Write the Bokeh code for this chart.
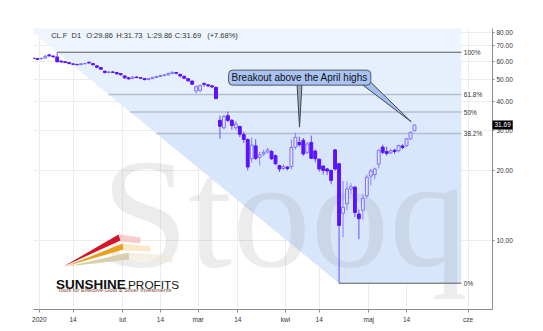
import numpy as np
from bokeh.plotting import figure
from bokeh.models import Range1d, FixedTicker, Label, PrintfTickFormatter
from bokeh.core.properties import value
from bokeh.embed import file_html
from bokeh.resources import INLINE

# ---------------- data (CL.F daily) ----------------
dates = ["2019-12-30", "2019-12-31",
         "2020-01-02", "2020-01-03", "2020-01-06", "2020-01-07", "2020-01-08", "2020-01-09", "2020-01-10",
         "2020-01-13", "2020-01-14", "2020-01-15", "2020-01-16", "2020-01-17", "2020-01-21", "2020-01-22",
         "2020-01-23", "2020-01-24", "2020-01-27", "2020-01-28", "2020-01-29", "2020-01-30", "2020-01-31",
         "2020-02-03", "2020-02-04", "2020-02-05", "2020-02-06", "2020-02-07", "2020-02-10", "2020-02-11",
         "2020-02-12", "2020-02-13", "2020-02-14", "2020-02-18", "2020-02-19", "2020-02-20", "2020-02-21",
         "2020-02-24", "2020-02-25", "2020-02-26", "2020-02-27", "2020-02-28",
         "2020-03-02", "2020-03-03", "2020-03-04", "2020-03-05", "2020-03-06", "2020-03-09", "2020-03-10",
         "2020-03-11", "2020-03-12", "2020-03-13", "2020-03-16", "2020-03-17", "2020-03-18", "2020-03-19",
         "2020-03-20", "2020-03-23", "2020-03-24", "2020-03-25", "2020-03-26", "2020-03-27", "2020-03-30",
         "2020-03-31",
         "2020-04-01", "2020-04-02", "2020-04-03", "2020-04-06", "2020-04-07", "2020-04-08", "2020-04-09",
         "2020-04-13", "2020-04-14", "2020-04-15", "2020-04-16", "2020-04-17", "2020-04-20", "2020-04-21",
         "2020-04-22", "2020-04-23", "2020-04-24", "2020-04-27", "2020-04-28", "2020-04-29", "2020-04-30",
         "2020-05-01", "2020-05-04", "2020-05-05", "2020-05-06", "2020-05-07", "2020-05-08", "2020-05-11",
         "2020-05-12", "2020-05-13", "2020-05-14", "2020-05-15", "2020-05-18"]

opens = [61.9, 61.6, 61.6, 61.9, 63.9, 63.2, 62.6, 60.1, 59.7, 59.2,
         58.4, 58.1, 58.0, 58.5, 59.4, 58.6, 57.3, 56.3, 54.3, 53.6,
         53.9, 53.6, 53.0, 51.8, 50.8, 50.5, 51.2, 50.9, 50.4, 49.9,
         50.4, 51.0, 51.5, 52.0, 52.3, 53.1, 53.6, 52.6, 51.6, 50.4,
         49.2, 44.5, 44.8, 48.0, 47.4, 46.9, 46.2, 33.2, 30.8, 34.8,
         33.2, 30.8, 31.2, 28.8, 27.4, 22.6, 25.7, 22.9, 23.7, 24.2,
         24.3, 23.3, 21.1, 20.5, 20.8, 20.9, 25.4, 26.6, 27.2, 24.1,
         26.6, 24.4, 22.5, 21.0, 20.4, 20.1, 24.7, 21.5, 13.1, 14.4,
         16.7, 17.0, 13.0, 13.5, 15.6, 19.0, 19.3, 21.4, 25.4, 24.3,
         24.0, 24.6, 24.5, 25.7, 25.8, 27.6, 29.86]
highs = [62.3, 61.9, 62.0, 64.0, 64.7, 63.4, 65.65, 60.3, 60.0, 59.3,
         58.8, 58.6, 58.8, 59.0, 59.7, 58.8, 57.5, 56.6, 54.6, 54.2,
         54.3, 53.8, 53.2, 52.0, 51.2, 51.6, 51.7, 51.1, 50.6, 50.7,
         51.3, 51.9, 52.3, 52.8, 53.5, 54.2, 53.9, 52.8, 51.9, 50.7,
         49.4, 47.2, 47.6, 48.6, 47.8, 47.3, 46.5, 34.8, 35.2, 36.2,
         33.6, 33.0, 31.5, 29.6, 27.7, 28.0, 27.5, 24.2, 24.7, 25.2,
         24.7, 23.6, 21.3, 21.4, 21.0, 27.4, 29.3, 28.2, 27.8, 26.7,
         28.5, 24.8, 22.7, 21.2, 20.6, 20.3, 24.9, 21.7, 18.1, 18.0,
         17.7, 17.2, 13.6, 15.9, 19.3, 20.4, 20.7, 24.8, 26.0, 25.5,
         25.0, 25.0, 26.0, 26.1, 27.7, 29.7, 31.73]
lows = [61.2, 60.7, 61.0, 61.6, 62.9, 62.0, 59.2, 59.1, 58.9, 58.2,
        57.7, 57.5, 57.7, 58.2, 58.5, 57.6, 55.9, 55.0, 53.1, 53.2,
        53.4, 52.3, 52.0, 50.3, 49.9, 50.2, 50.6, 50.2, 49.6, 49.8,
        50.2, 50.7, 51.2, 51.6, 52.1, 52.9, 52.6, 51.0, 50.1, 48.9,
        47.4, 43.4, 44.0, 46.4, 46.3, 45.8, 41.0, 27.6, 30.3, 32.6,
        30.2, 30.0, 28.1, 26.4, 20.1, 21.8, 22.3, 21.1, 23.2, 23.8,
        22.3, 21.2, 19.8, 20.2, 20.1, 20.3, 24.8, 25.5, 23.3, 23.7,
        22.6, 21.8, 19.9, 19.3, 19.2, 17.5, 20.0, 6.5, 10.3, 13.5,
        15.9, 12.6, 10.1, 12.3, 15.2, 17.3, 18.4, 20.5, 23.7, 23.3,
        23.6, 23.7, 24.1, 24.9, 25.4, 27.3, 29.86]
closes = [61.7, 61.1, 61.8, 63.0, 63.3, 62.8, 59.7, 59.6, 59.2, 58.6,
          58.2, 58.0, 58.5, 58.6, 59.0, 57.9, 56.5, 55.4, 53.6, 53.9,
          53.7, 52.9, 52.4, 50.8, 50.3, 51.2, 51.0, 50.6, 49.9, 50.4,
          51.0, 51.5, 52.0, 52.3, 53.1, 53.7, 53.2, 51.8, 50.6, 49.3,
          47.7, 46.5, 47.0, 47.6, 46.9, 46.4, 41.3, 31.3, 34.5, 33.2,
          31.5, 32.0, 28.9, 27.4, 20.8, 25.9, 22.7, 23.5, 24.1, 24.7,
          22.6, 21.5, 20.4, 20.9, 20.5, 25.3, 28.0, 26.0, 23.7, 26.2,
          22.7, 22.6, 20.4, 20.1, 20.0, 18.2, 20.4, 11.6, 13.9, 16.7,
          17.1, 13.2, 12.4, 15.2, 18.8, 20.0, 20.4, 24.6, 24.1, 23.8,
          24.5, 24.3, 25.8, 25.3, 27.6, 29.43, 31.69]

symbol = "CL.F"
interval = "D1"
tick_pos = [1.5, 10, 22.5, 32, 41.5, 51.5, 63.5, 72, 84.5, 94, 109.5]
tick_labels = ["2020", "14", "lut", "14", "mar", "14", "kwi", "14", "maj", "14", "cze"]
price_ticks = [10, 20, 30, 40, 50, 60, 70, 80]
fib_ratios = [1.0, 0.618, 0.5, 0.382, 0.0]
fib_labels = ["100%", "61.8%", "50%", "38.2%", "0%"]
callout_text = "Breakout above the April highs"
watermark = "Stooq"

# ---------------- layout helpers (pixel -> data) ----------------
X0, DX = 32.86, 3.97          # px of index 0, px per trading day
Y10, PPD = 239.7, 230.0       # px of price 10, px per decade
def X(px):
    return (px - X0) / DX
def Y(py):
    return 10 ** (1 + (Y10 - py) / PPD)

FONT = value("Liberation Sans")
n = len(closes)
idx = np.arange(n)
o = np.array(opens); h = np.array(highs); l = np.array(lows); c = np.array(closes)
up = c >= o

p = figure(width=543, height=331, x_range=Range1d(X(33), X(492)), y_range=Range1d(Y(309), Y(28)),
           y_axis_type="log", y_axis_location="right", output_backend="svg", toolbar_location=None,
           min_border_left=33, min_border_right=51, min_border_top=28, min_border_bottom=22)
p.outline_line_color = None
p.background_fill_color = "white"
p.border_fill_color = "white"

# axes
p.xaxis.ticker = FixedTicker(ticks=tick_pos, minor_ticks=[])
p.xaxis.major_label_overrides = {(int(t) if float(t).is_integer() else t): lab for t, lab in zip(tick_pos, tick_labels)}
p.yaxis.ticker = FixedTicker(ticks=price_ticks, minor_ticks=[])
p.yaxis.formatter = PrintfTickFormatter(format="%.2f")
for ax in (p.xaxis, p.yaxis):
    ax.axis_line_color = "#8c8c8c"
    ax.major_tick_line_color = "#8c8c8c"
    ax.minor_tick_line_color = None
    ax.major_tick_in = 0
    ax.major_label_text_font = "Liberation Sans"
    ax.major_label_text_font_size = "6.5px"
    ax.major_label_text_color = "#333333"
p.xaxis.major_tick_out = 3
p.xaxis.major_label_standoff = 3
p.yaxis.major_tick_out = 2
p.yaxis.major_label_standoff = 2
p.grid.grid_line_color = "#ececec"

# ---------------- fibonacci retracement shading ----------------
hi_i = int(np.argmax(h)); lo_i = int(np.argmin(l))
H = h[hi_i]; L = l[lo_i]
fib_end = 107.8
levels = [L + r * (H - L) for r in fib_ratios]
def xdiag(price):
    return hi_i + (np.log10(price) - np.log10(H)) / (np.log10(L) - np.log10(H)) * (lo_i - hi_i)

bounds = [Y(0)] + levels
band_colors = ["#eef5fe", "#e6f0fd", "#e1ecfc", "#dde9fc", "#d7e6fb"]
bxs, bys = [], []
for top, bot in zip(bounds[:-1], bounds[1:]):
    bxs.append([xdiag(top), fib_end, fib_end, xdiag(bot)])
    bys.append([top, top, bot, bot])
p.patches(bxs, bys, fill_color=band_colors, line_color=None)

# watermark
p.text(x=[X(284)], y=[Y(212)], text=[watermark], text_font=value("Liberation Serif"),
       text_font_size="157px", text_color="#8a8a8a", text_alpha=0.16,
       text_align="center", text_baseline="alphabetic")

# level lines
lv_colors = ["#5a5a5a", "#b2bfd0", "#b2bfd0", "#b2bfd0", "#5a5a5a"]
lv_widths = [1, 1.5, 1.5, 1.5, 1]
p.segment(x0=[xdiag(v) for v in levels], y0=levels, x1=[fib_end] * 5, y1=levels,
          line_color=lv_colors, line_width=lv_widths)
p.text(x=[X(463.3)] * 5, y=levels, text=fib_labels, text_font=FONT, text_font_size="6.5px",
       text_color="#333333", text_baseline="middle", text_align="left")

# ---------------- candles ----------------
p.segment(x0=idx[up], y0=l[up], x1=idx[up], y1=h[up], line_color="#8a80ff", line_width=1)
p.segment(x0=idx[~up], y0=l[~up], x1=idx[~up], y1=h[~up], line_color="#6a4cff", line_width=1)
p.vbar(x=idx[up], bottom=o[up], top=c[up], width=0.72, fill_color="#e6e4ff", line_color="#7c70ff", line_width=1)
p.vbar(x=idx[~up], bottom=c[~up], top=o[~up], width=0.72, fill_color="#5a12ff", line_color="#5a12ff", line_width=1)

# ---------------- header ----------------
pct = (c[-1] / c[-2] - 1) * 100
hdr = [symbol, interval, f"O:{o[-1]:.2f}", f"H:{h[-1]:.2f}", f"L:{l[-1]:.2f}", f"C:{c[-1]:.2f}", f"(+{pct:.2f}%)"]
hdr_px = [50.7, 71, 85.7, 115.7, 146.7, 174.3, 206.7]
p.text(x=[X(v) for v in hdr_px], y=[Y(35)] * len(hdr), text=hdr, text_font=FONT, text_font_size="7.5px",
       text_color="#333333", text_baseline="middle", text_align="left")

# ---------------- callout ----------------
p.patch([X(296.5), X(301.5), X(299)], [Y(83), Y(83), Y(126.7)],
        fill_color="#9ea8b8", line_color="#3d4452", line_width=1)
p.patch([X(361), X(369), X(410.7)], [Y(83.5), Y(80.5), Y(121.3)],
        fill_color="#a4bfee", line_color="#3d4452", line_width=1)
p.add_layout(Label(x=X(299.2), y=Y(77.15), text=callout_text, text_font="Liberation Sans",
                   text_font_size="10px", text_color="#111111", text_align="center", text_baseline="middle",
                   background_fill_color="#a9c3f2", border_line_color="#4d5566", border_line_width=1,
                   border_radius=4, padding=dict(left=3, right=3, top=2, bottom=2)))

# last price marker on the axis (placed in the right side panel so it is not clipped)
p.add_layout(Label(x=X(492), y=c[-1], text=f"{c[-1]:.2f}", text_font="Liberation Sans",
                   text_font_size="6.5px", text_color="white", text_align="left", text_baseline="middle",
                   background_fill_color="black", padding=dict(left=2, right=2, top=2, bottom=2)), "right")

# ---------------- Sunshine Profits logo ----------------
def poly(pts):
    return [X(a) for a, b in pts], [Y(b) for a, b in pts]
tails = [([(119, 234), (140, 237), (140, 243), (120, 241)], "#f4b8b8"),
         ([(122, 243), (150, 246), (150, 251), (123, 250)], "#f6dfb2"),
         ([(128, 252), (172, 255), (172, 262), (129, 260)], "#efeadb")]
for pts, col in tails:
    xs, ys = poly(pts)
    p.patch(xs, ys, fill_color=col, line_color=None, fill_alpha=0.7)
streaks = [([(63, 266), (118, 234), (120, 240)], "#d4142a"),
           ([(65, 266), (122, 243), (123, 249)], "#e9a21f"),
           ([(67, 266), (128, 252), (129, 259)], "#d9cfae")]
for pts, col in streaks:
    xs, ys = poly(pts)
    p.patch(xs, ys, fill_color=col, line_color=None)
p.text(x=[X(55.4)], y=[Y(284)], text=["SUNSHINE"], text_font=FONT, text_font_size="13.5px",
       text_font_style="bold", text_color="#111111", text_baseline="alphabetic", text_align="left")
p.text(x=[X(127.5)], y=[Y(284)], text=["PROFITS"], text_font=FONT, text_font_size="11.8px",
       text_color="#111111", text_baseline="alphabetic", text_align="left")
p.text(x=[X(57)], y=[Y(289.5)], text=["Tools for Effective Gold & Silver Investments"], text_font=FONT,
       text_font_size="5.8px", text_color="#7a4536", text_baseline="middle", text_align="left")

open("out.html", "w").write(file_html(p, INLINE))
